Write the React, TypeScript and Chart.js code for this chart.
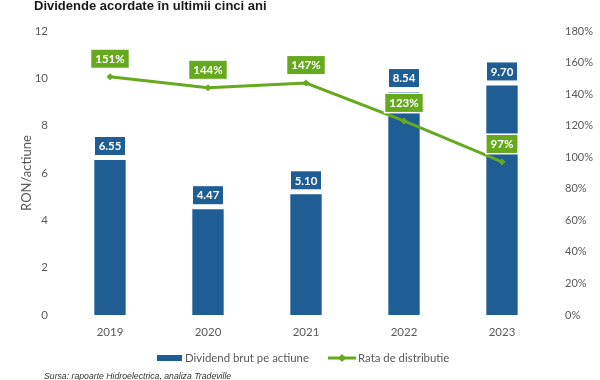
import { useEffect, useRef } from 'react';
import { Chart, registerables } from 'chart.js';

Chart.register(...registerables);

const categories = ['2019', '2020', '2021', '2022', '2023'];
const dividendValues = [6.55, 4.47, 5.1, 9.42, 9.7];
const dividendLabels = ['6.55', '4.47', '5.10', '8.54', '9.70'];
const payoutRates = [151, 144, 147, 123, 97];

const BLUE = '#1F5D95';
const GREEN = '#66A81E';
const TICK = '#595959';
const FONT = 'Lato';

const overlay = {
  id: 'overlay',
  afterDatasetsDraw(chart: any) {
    const ctx = chart.ctx;
    const barMeta = chart.getDatasetMeta(0);
    const lineMeta = chart.getDatasetMeta(1);
    ctx.save();
    ctx.textAlign = 'center';
    ctx.textBaseline = 'middle';
    ctx.font = `bold 11.5px ${FONT}`;
    barMeta.data.forEach((el: any, i: number) => {
      const x = el.x;
      const y = el.y;
      const w = 30;
      const h = 18;
      const bx = x - w / 2;
      const by = y - 5 - h;
      ctx.fillStyle = '#ffffff';
      ctx.fillRect(bx - 1.5, by - 1.5, w + 3, h + 3);
      ctx.fillStyle = BLUE;
      ctx.fillRect(bx, by, w, h);
      ctx.fillStyle = '#ffffff';
      ctx.fillText(dividendLabels[i], x, by + h / 2 + 0.5);
    });
    lineMeta.data.forEach((el: any, i: number) => {
      const x = el.x;
      const y = el.y;
      const txt = payoutRates[i] + '%';
      const w = ctx.measureText(txt).width + 8;
      const h = 18;
      const bx = x - w / 2;
      const by = y - 9 - h;
      ctx.fillStyle = '#ffffff';
      ctx.fillRect(bx - 1.5, by - 1.5, w + 3, h + 3);
      ctx.fillStyle = GREEN;
      ctx.fillRect(bx, by, w, h);
      ctx.fillStyle = '#ffffff';
      ctx.fillText(txt, x, by + h / 2 + 0.5);
    });
    ctx.restore();
  },
  afterDraw(chart: any) {
    const ctx = chart.ctx;
    ctx.save();
    // Title
    ctx.fillStyle = '#1a1a1a';
    ctx.font = 'bold 13px "Liberation Sans"';
    ctx.textAlign = 'left';
    ctx.textBaseline = 'alphabetic';
    ctx.fillText('Dividende acordate în ultimii cinci ani', 34, 10);
    // Y axis title
    ctx.save();
    ctx.translate(27, (chart.chartArea.top + chart.chartArea.bottom) / 2);
    ctx.rotate(-Math.PI / 2);
    ctx.textAlign = 'center';
    ctx.textBaseline = 'middle';
    ctx.fillStyle = TICK;
    ctx.font = `13px ${FONT}`;
    ctx.fillText('RON/actiune', 0, 0);
    ctx.restore();
    // Legend
    const ly = 358;
    ctx.fillStyle = BLUE;
    ctx.fillRect(157, ly - 3, 25, 6);
    ctx.fillStyle = TICK;
    ctx.font = `11.4px ${FONT}`;
    ctx.textAlign = 'left';
    ctx.textBaseline = 'middle';
    ctx.fillText('Dividend brut pe actiune', 185, ly);
    ctx.strokeStyle = GREEN;
    ctx.lineWidth = 3;
    ctx.beginPath();
    ctx.moveTo(328, ly);
    ctx.lineTo(356, ly);
    ctx.stroke();
    ctx.fillStyle = GREEN;
    ctx.beginPath();
    ctx.moveTo(342, ly - 4);
    ctx.lineTo(346, ly);
    ctx.lineTo(342, ly + 4);
    ctx.lineTo(338, ly);
    ctx.closePath();
    ctx.fill();
    ctx.fillStyle = TICK;
    ctx.fillText('Rata de distributie', 358, ly);
    // Footer
    ctx.fillStyle = '#333333';
    ctx.font = 'italic 8.7px "Liberation Sans"';
    ctx.textBaseline = 'alphabetic';
    ctx.fillText('Sursa: rapoarte Hidroelectrica, analiza Tradeville', 44, 379);
    ctx.restore();
  },
};

export default function App() {
  const ref = useRef<HTMLCanvasElement>(null);
  useEffect(() => {
    document.body.style.margin = '0';
    const canvas = ref.current!;
    const chart = new Chart(canvas, {
      type: 'bar',
      data: {
        labels: categories,
        datasets: [
          {
            type: 'bar',
            label: 'Dividend brut pe actiune',
            data: dividendValues,
            backgroundColor: BLUE,
            yAxisID: 'y',
            categoryPercentage: 1,
            barPercentage: 0.32,
            order: 2,
          },
          {
            type: 'line',
            label: 'Rata de distributie',
            data: payoutRates,
            borderColor: GREEN,
            backgroundColor: GREEN,
            borderWidth: 3,
            pointStyle: 'rectRot',
            pointRadius: 3.5,
            pointBorderWidth: 0,
            tension: 0,
            yAxisID: 'y1',
            order: 1,
          },
        ],
      } as any,
      options: {
        responsive: false,
        animation: false,
        layout: { padding: { top: 31, left: 0, right: 0, bottom: 0 } },
        plugins: {
          legend: { display: false },
          tooltip: { enabled: false },
          title: { display: false },
        },
        scales: {
          x: {
            grid: { display: false },
            border: { display: false },
            ticks: { color: TICK, font: { family: FONT, size: 11.5 }, padding: 2 },
            afterFit: (s: any) => {
              s.height = 65;
            },
          },
          y: {
            position: 'left',
            min: 0,
            max: 12,
            grid: { display: false },
            border: { display: false },
            ticks: { stepSize: 2, color: TICK, font: { family: FONT, size: 11.5 }, padding: 5 },
            afterFit: (s: any) => {
              s.width = 61;
            },
          },
          y1: {
            position: 'right',
            min: 0,
            max: 180,
            grid: { display: false },
            border: { display: false },
            ticks: {
              stepSize: 20,
              color: TICK,
              font: { family: FONT, size: 11 },
              padding: 6,
              callback: (v: any) => v + '%',
            },
            afterFit: (s: any) => {
              s.width = 49;
            },
          },
        },
      } as any,
      plugins: [overlay],
    });
    return () => chart.destroy();
  }, []);
  return <canvas ref={ref} width={600} height={380} style={{ display: 'block' }} />;
}
